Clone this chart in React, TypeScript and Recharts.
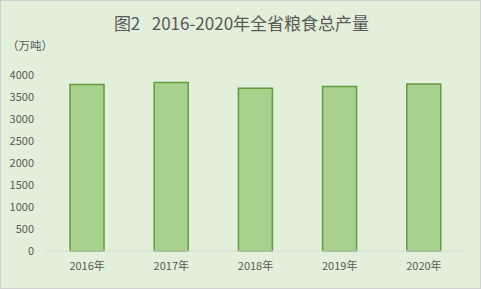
import React from 'react';
import { BarChart, Bar, XAxis, YAxis } from 'recharts';

const years = ['2016年', '2017年', '2018年', '2019年', '2020年'];
const output = [3783.0, 3829.2, 3700.9, 3739.2, 3795.9];
const yTicks = [0, 500, 1000, 1500, 2000, 2500, 3000, 3500, 4000];
const title = '图2\u00a0\u00a0\u00a02016-2020年全省粮食总产量';
const unit = '（万吨）';

const data = years.map((y, i) => ({ year: y, value: output[i] }));

const FONT = '"Noto Sans CJK SC", "Noto Sans", sans-serif';

export default function App() {
  return (
    <div
      style={{
        position: 'absolute',
        left: 0,
        top: 0,
        width: 481,
        height: 289,
        background: '#E2EFDA',
        boxSizing: 'border-box',
        border: '1px solid #D0D0D0',
        fontFamily: FONT,
        overflow: 'hidden',
      }}
    >
      <div
        style={{
          position: 'absolute',
          left: 0,
          top: 9,
          width: 481,
          textAlign: 'center',
          fontSize: 17,
          color: '#595959',
          lineHeight: '26px',
          whiteSpace: 'pre',
        }}
      >
        {title}
      </div>
      <div
        style={{
          position: 'absolute',
          left: 6,
          top: 36,
          fontSize: 11.5,
          color: '#595959',
          lineHeight: '16px',
        }}
      >
        {unit}
      </div>
      <div style={{ position: 'absolute', left: -1, top: -1 }}>
        <BarChart
          width={481}
          height={289}
          data={data}
          margin={{ top: 75, right: 15, left: 0, bottom: 8 }}
          barCategoryGap={0}
        >
          <XAxis
            dataKey="year"
            axisLine={{ stroke: '#D9D9D9' }}
            tickLine={false}
            tickSize={0}
            tickMargin={11}
            height={30}
            tick={{ fill: '#595959', fontSize: 11, fontFamily: FONT }}
          />
          <YAxis
            domain={[0, 4000]}
            ticks={yTicks}
            interval={0}
            width={45}
            axisLine={false}
            tickLine={false}
            tickSize={0}
            tickMargin={11}
            tick={{ fill: '#595959', fontSize: 11, fontFamily: FONT }}
          />
          <Bar
            dataKey="value"
            fill="#A9D18E"
            stroke="#649A3F"
            strokeWidth={1.5}
            barSize={34}
            isAnimationActive={false}
          />
        </BarChart>
      </div>
    </div>
  );
}
